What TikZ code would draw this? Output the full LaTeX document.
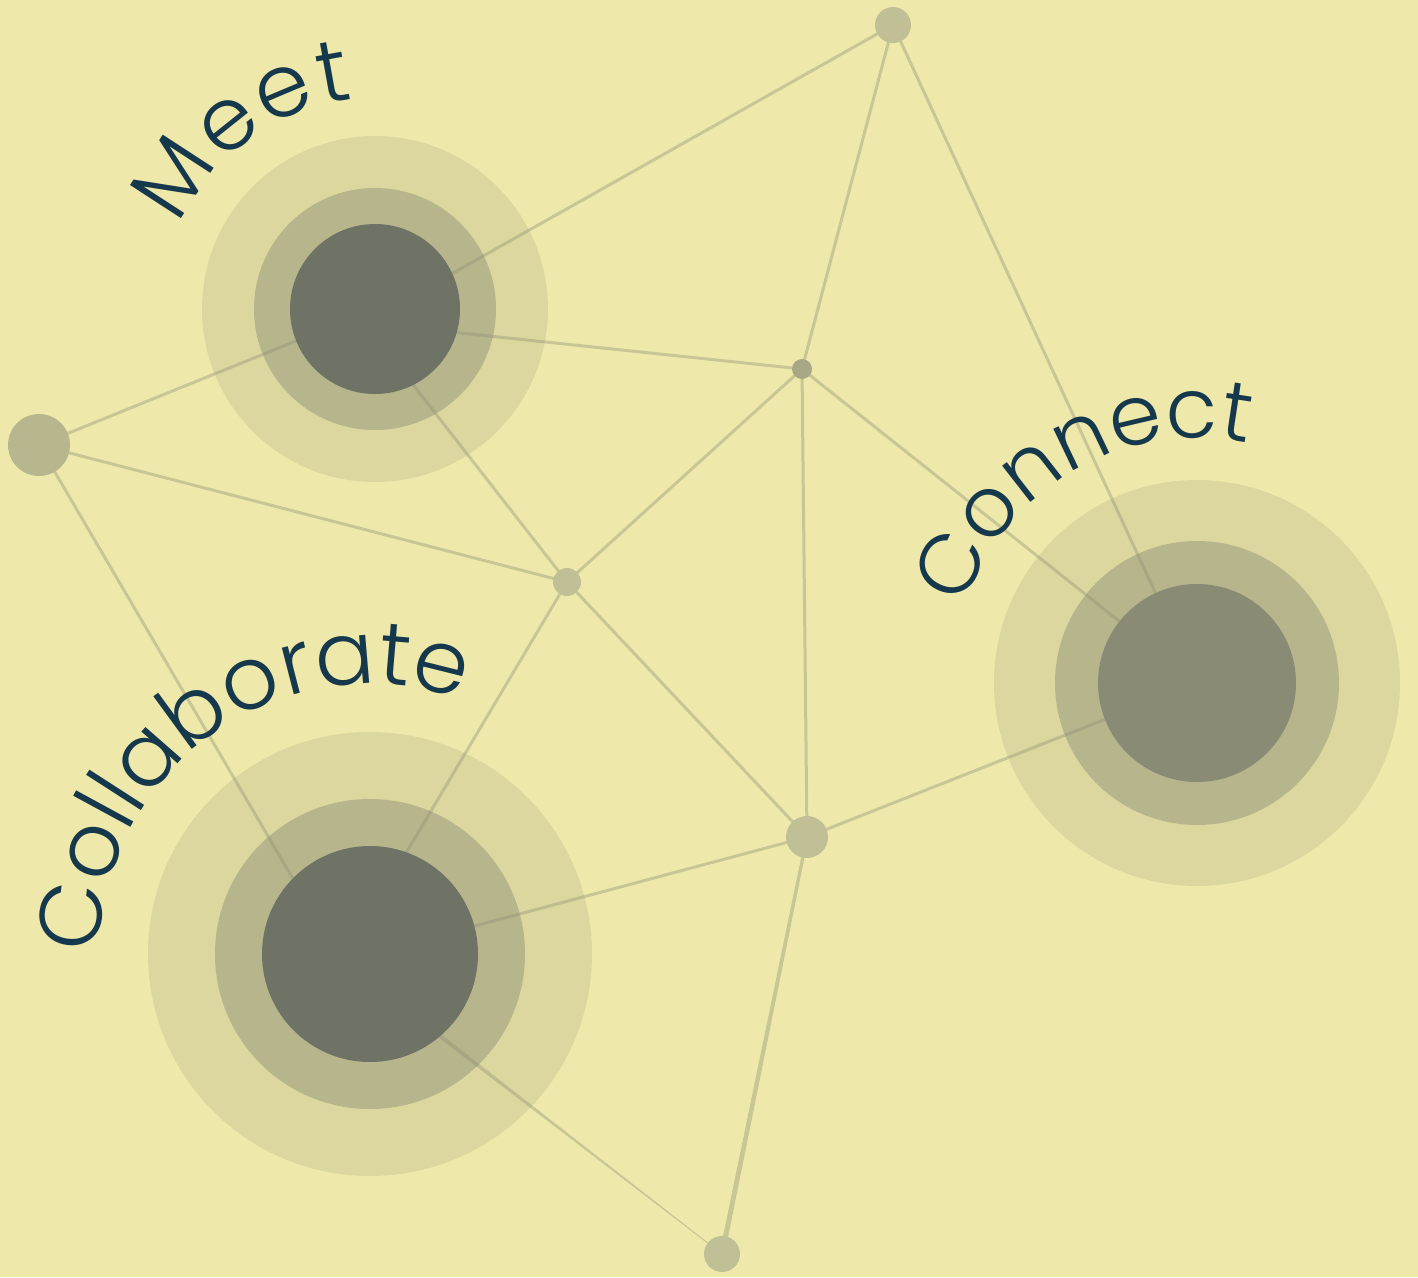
\documentclass[tikz,border=0pt]{standalone}
\usepackage{fontspec}
\setmainfont{Poppins}
\newfontfamily\lblfont{Poppins}[UprightFont=* Light]
\usetikzlibrary{decorations.text,calc}
\definecolor{bg}{HTML}{EEE9AA}
\definecolor{haloA}{HTML}{DCD79E}
\definecolor{haloB}{HTML}{B6B58C}
\definecolor{coreD}{HTML}{6F7366}
\definecolor{coreL}{HTML}{898B75}
\definecolor{dotc}{HTML}{C1BF96}
\definecolor{dotd}{HTML}{B8B68E}
\definecolor{dotm}{HTML}{A8A887}
\definecolor{edgec}{HTML}{8F8F75}
\definecolor{txt}{HTML}{16384D}
\tikzset{
  edge/.style={draw=edgec, draw opacity=0.38, line width=3pt},
  taper/.style={fill=edgec, fill opacity=0.38},
  dot/.style={circle, fill=dotc, inner sep=0pt, minimum size=#1},
  label arc/.style 2 args={decorate, decoration={text along path, text align={fit to path}, text={|\lblfont\fontsize{#2}{100}\selectfont\color{txt}|#1}}}
}
\begin{document}
\begin{tikzpicture}[x=1pt,y=1pt]
\fill[bg] (0,0) rectangle (1418,-1277);
\useasboundingbox (0,0) rectangle (1418,-1277);
% centres
\coordinate (M)  at (375,-309);
\coordinate (N)  at (1197,-683);
\coordinate (Co) at (370,-954);
\coordinate (A)  at (39,-445);
\coordinate (T)  at (893,-25);
\coordinate (Cm) at (802,-369);
\coordinate (H)  at (567,-582);
\coordinate (K)  at (807,-837);
\coordinate (B)  at (722,-1254);
% hidden attachment points under the cores
\coordinate (Mt) at ($(M)+(0,-8)$);
\coordinate (Mc) at ($(M)+(0,-15)$);
\coordinate (Mh) at ($(M)+(-21,0)$);
\coordinate (Ca) at ($(Co)+(-33,0)$);
\coordinate (Ch) at ($(Co)+(-24,0)$);
\coordinate (Cb) at ($(Co)+(0,-28)$);
% halos
\fill[haloA] (M) circle[radius=173];
\fill[haloB] (M) circle[radius=121];
\fill[haloA] (N) circle[radius=203];
\fill[haloB] (N) circle[radius=142];
\fill[haloA] (Co) circle[radius=222];
\fill[haloB] (Co) circle[radius=155];
% connectors
\draw[edge] (Mt) -- (T);
\draw[edge] (Mc) -- (Cm);
\draw[edge] (M) -- (A);
\draw[edge] (Mh) -- (H);
\draw[edge] (A) -- (H);
\draw[edge] (A) -- (Ca);
\draw[edge] (T) -- (Cm);
\draw[edge] (T) -- (N);
\draw[edge] (Cm) -- (H);
\draw[edge] (Cm) -- (K);
\draw[edge] (Cm) -- (N);
\draw[edge] (H) -- (Ch);
\draw[edge] (H) -- (K);
\draw[edge] (K) -- (Co);
\draw[edge] (K) -- (N);
\fill[taper] ($(K)!1.6pt!90:(B)$) -- ($(B)!2.6pt!-90:(K)$) -- ($(B)!2.6pt!90:(K)$) -- ($(K)!1.6pt!-90:(B)$) -- cycle;
\fill[taper] ($(Cb)!2.4pt!90:(B)$) -- ($(B)!0.4pt!-90:(Cb)$) -- ($(B)!0.4pt!90:(Cb)$) -- ($(Cb)!2.4pt!-90:(B)$) -- cycle;
% cores
\node[circle, fill=coreD, inner sep=0pt, minimum size=170pt] (Mcore) at (M) {};
\node[circle, fill=coreL, inner sep=0pt, minimum size=198pt] (Ncore) at (N) {};
\node[circle, fill=coreD, inner sep=0pt, minimum size=216pt] (Cocore) at (Co) {};
% small nodes
\node[dot=62pt, fill=dotd] (a) at (A) {};
\node[dot=36pt] (t) at (T) {};
\node[dot=20pt, fill=dotm] (cm) at (Cm) {};
\node[dot=28pt] (h) at (H) {};
\node[dot=42pt] (k) at (K) {};
\node[dot=36pt] (b) at (B) {};
% labels
\path[label arc={Meet}{88}] ($(M)+(157:211)$) arc[start angle=157, end angle=96, radius=211];
\path[label arc={Connect}{84}] ($(N)+(162:245)$) arc[start angle=162, end angle=78, radius=245];
\path[label arc={Collaborate}{88}] ($(Co)+(180:270)$) arc[start angle=180, end angle=73.5, radius=270];
\end{tikzpicture}
\end{document}
